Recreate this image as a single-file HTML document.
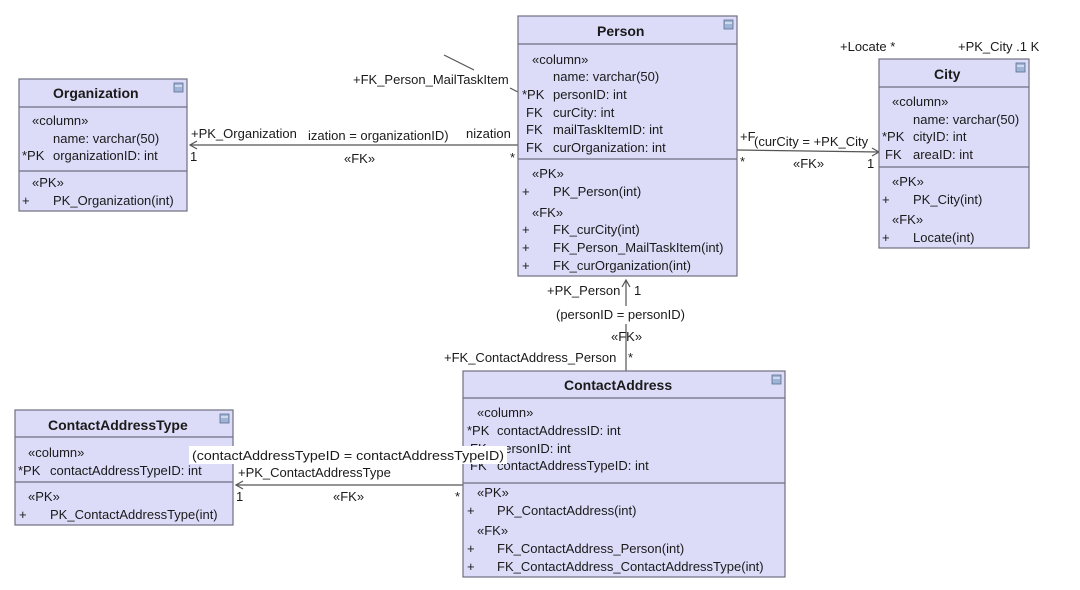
<!DOCTYPE html>
<html><head><meta charset="utf-8"><style>
html,body{margin:0;padding:0;background:#fff;width:1080px;height:590px;overflow:hidden}
svg text{font-family:"Liberation Sans",sans-serif;font-size:13px;fill:#1a1a1a}
.b{font-weight:bold;font-size:14px}
.box{fill:#dcdcf9;stroke:#6e6e80;stroke-width:1.2}
.ln{stroke:#6e6e80;stroke-width:1.2}
.c{stroke:#555;stroke-width:1.2;fill:none}
</style></head><body>
<svg width="1080" height="590" xmlns="http://www.w3.org/2000/svg">
<defs><g id="ic"><rect x="0" y="0" width="9" height="9" fill="#9fb3d6" stroke="#5a6e90" stroke-width="0.8"/><line x1="1" y1="3" x2="8" y2="3" stroke="#fff"/></g></defs>

<!-- connectors -->
<line class="c" x1="190" y1="145" x2="518" y2="145"/>
<polyline class="c" points="197,141 190,145 197,149"/>
<line class="c" x1="737" y1="150" x2="879" y2="152"/>
<polyline class="c" points="872,148 879,152 872,156"/>
<line class="c" x1="626" y1="280" x2="626" y2="371"/>
<polyline class="c" points="622,287 626,280 630,287"/>
<line class="c" x1="236" y1="485" x2="463" y2="485"/>
<polyline class="c" points="243,481 236,485 243,489"/>
<line class="c" x1="444" y1="55" x2="474" y2="70"/>
<line class="c" x1="510" y1="88" x2="518" y2="92"/>

<!-- connector labels -->
<text x="191" y="138">+PK_Organization</text>
<text x="308" y="140">ization = organizationID)</text>
<text x="466" y="138">nization</text>
<text x="190" y="161">1</text>
<text x="510" y="162">*</text>
<text x="344" y="163">«FK»</text>
<text x="353" y="84">+FK_Person_MailTaskItem</text>
<text x="740" y="141">+F</text>
<text x="754" y="146">(curCity = +PK_City</text>
<text x="740" y="166">*</text>
<text x="867" y="168">1</text>
<text x="793" y="168">«FK»</text>
<text x="840" y="51">+Locate *</text>
<text x="958" y="51">+PK_City .1 K</text>
<text x="547" y="295">+PK_Person</text>
<text x="634" y="295">1</text>
<rect x="555" y="306" width="140" height="18" fill="#fff"/>
<text x="556" y="319">(personID = personID)</text>
<text x="611" y="341">«FK»</text>
<text x="444" y="362">+FK_ContactAddress_Person</text>
<text x="628" y="362">*</text>
<text x="238" y="477">+PK_ContactAddressType</text>
<text x="236" y="501">1</text>
<text x="333" y="501">«FK»</text>
<text x="455" y="501">*</text>

<!-- Organization -->
<rect class="box" x="19" y="79" width="168" height="132"/>
<line class="ln" x1="19" y1="107" x2="187" y2="107"/>
<line class="ln" x1="19" y1="171" x2="187" y2="171"/>
<use href="#ic" x="174" y="83"/>
<text class="b" x="53" y="98">Organization</text>
<text x="32" y="125">«column»</text>
<text x="53" y="143">name: varchar(50)</text>
<text x="22" y="160">*PK</text><text x="53" y="160">organizationID: int</text>
<text x="32" y="187">«PK»</text>
<text x="22" y="205">+</text><text x="53" y="205">PK_Organization(int)</text>

<!-- Person -->
<rect class="box" x="518" y="16" width="219" height="260"/>
<line class="ln" x1="518" y1="44" x2="737" y2="44"/>
<line class="ln" x1="518" y1="159" x2="737" y2="159"/>
<use href="#ic" x="724" y="20"/>
<text class="b" x="597" y="36">Person</text>
<text x="532" y="64">«column»</text>
<text x="553" y="81">name: varchar(50)</text>
<text x="522" y="99">*PK</text><text x="553" y="99">personID: int</text>
<text x="526" y="117">FK</text><text x="553" y="117">curCity: int</text>
<text x="526" y="134">FK</text><text x="553" y="134">mailTaskItemID: int</text>
<text x="526" y="152">FK</text><text x="553" y="152">curOrganization: int</text>
<text x="532" y="178">«PK»</text>
<text x="522" y="196">+</text><text x="553" y="196">PK_Person(int)</text>
<text x="532" y="217">«FK»</text>
<text x="522" y="234">+</text><text x="553" y="234">FK_curCity(int)</text>
<text x="522" y="252">+</text><text x="553" y="252">FK_Person_MailTaskItem(int)</text>
<text x="522" y="270">+</text><text x="553" y="270">FK_curOrganization(int)</text>

<!-- City -->
<rect class="box" x="879" y="59" width="150" height="189"/>
<line class="ln" x1="879" y1="87" x2="1029" y2="87"/>
<line class="ln" x1="879" y1="167" x2="1029" y2="167"/>
<use href="#ic" x="1016" y="63"/>
<text class="b" x="934" y="79">City</text>
<text x="892" y="106">«column»</text>
<text x="913" y="124">name: varchar(50)</text>
<text x="882" y="141">*PK</text><text x="913" y="141">cityID: int</text>
<text x="885" y="159">FK</text><text x="913" y="159">areaID: int</text>
<text x="892" y="186">«PK»</text>
<text x="882" y="204">+</text><text x="913" y="204">PK_City(int)</text>
<text x="892" y="224">«FK»</text>
<text x="882" y="242">+</text><text x="913" y="242">Locate(int)</text>

<!-- ContactAddress -->
<rect class="box" x="463" y="371" width="322" height="206"/>
<line class="ln" x1="463" y1="398" x2="785" y2="398"/>
<line class="ln" x1="463" y1="483" x2="785" y2="483"/>
<use href="#ic" x="772" y="375"/>
<text class="b" x="564" y="390">ContactAddress</text>
<text x="477" y="417">«column»</text>
<text x="467" y="435">*PK</text><text x="497" y="435">contactAddressID: int</text>
<text x="470" y="453">FK</text><text x="497" y="453">personID: int</text>
<text x="470" y="470">FK</text><text x="497" y="470">contactAddressTypeID: int</text>
<text x="477" y="497">«PK»</text>
<text x="467" y="515">+</text><text x="497" y="515">PK_ContactAddress(int)</text>
<text x="477" y="535">«FK»</text>
<text x="467" y="553">+</text><text x="497" y="553">FK_ContactAddress_Person(int)</text>
<text x="467" y="571">+</text><text x="497" y="571">FK_ContactAddress_ContactAddressType(int)</text>

<!-- ContactAddressType -->
<rect class="box" x="15" y="410" width="218" height="115"/>
<line class="ln" x1="15" y1="437" x2="233" y2="437"/>
<line class="ln" x1="15" y1="482" x2="233" y2="482"/>
<use href="#ic" x="220" y="414"/>
<text class="b" x="48" y="430">ContactAddressType</text>
<text x="28" y="457">«column»</text>
<text x="18" y="475">*PK</text><text x="50" y="475">contactAddressTypeID: int</text>
<text x="28" y="501">«PK»</text>
<text x="19" y="519">+</text><text x="50" y="519">PK_ContactAddressType(int)</text>

<!-- overlay label -->
<rect x="189" y="446" width="318" height="18" fill="#fff"/>
<text x="192" y="460" textLength="312" lengthAdjust="spacingAndGlyphs">(contactAddressTypeID = contactAddressTypeID)</text>
</svg>
</body></html>
